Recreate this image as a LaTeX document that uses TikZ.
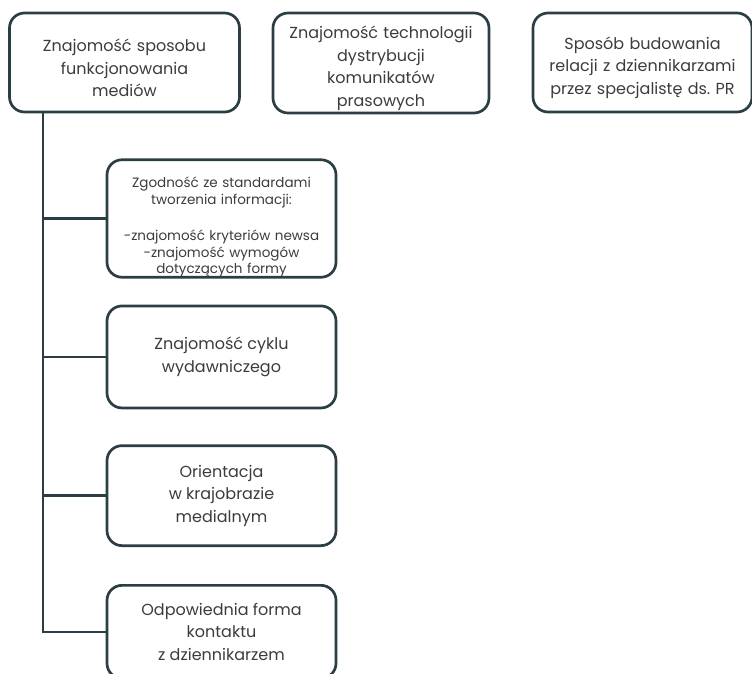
\documentclass[tikz,border=0pt]{standalone}
\usepackage{fontspec}
\setmainfont{Poppins}
\usetikzlibrary{positioning}
\definecolor{edge}{HTML}{2B3E43}
\definecolor{ink}{HTML}{3C3C3C}
\tikzset{box/.style={draw=edge, line width=2.7pt, rounded corners=15pt, fill=white,
  align=center, text=ink, inner sep=2pt, font=\fontsize{16}{22.5}\selectfont}}
\tikzset{lowered/.style={execute at begin node={\rule{0pt}{#1}}}}
\tikzset{link/.style={draw=edge, line width=2.7pt}}

\begin{document}
\begin{tikzpicture}[x=1pt,y=-1pt]
\useasboundingbox (0,0) rectangle (752,673);
% top row
\node (medium) [box, lowered=24pt, text width=226pt, minimum height=99pt] at (124.5,62.5)
  {Znajomość sposobu\\funkcjonowania\\mediów};
\node (techn) [box, lowered=23pt, text width=212pt, minimum height=100pt] at (381,63)
  {Znajomość technologii\\dystrybucji\\komunikatów\\prasowych};
\node (relac) [box, lowered=23pt, text width=215pt, minimum height=99pt] at (642.5,62.5)
  {Sposób budowania\\relacji z dziennikarzami\\przez specjalistę ds.\ PR};

% branches
\node (standard) [box, lowered=28pt, inner ysep=0pt, text width=225pt, minimum height=117pt,
  font=\fontsize{13.5}{16.5}\selectfont] at (221.5,218.5)
  {Zgodność ze standardami\\tworzenia informacji:\\[20pt]-znajomość kryteriów newsa\\-znajomość wymogów\\dotyczących formy};
\node (cykl) [box, minimum width=229pt, minimum height=102pt, below=26pt of standard] 
  {Znajomość cyklu\\wydawniczego};
\node (orient) [box, minimum width=229pt, minimum height=100pt, below=35pt of cykl]
  {Orientacja\\w krajobrazie\\medialnym};
\node (kontakt) [box, minimum width=229pt, minimum height=93pt, below=37pt of orient]
  {Odpowiednia forma\\kontaktu\\z dziennikarzem};

\coordinate (trunk) at (43,112);
\draw[link] (trunk) |- (kontakt.west);
\foreach \n in {standard,cykl,orient}
  \draw[link] (\n.west -| trunk) -- (\n.west);
\end{tikzpicture}
\end{document}
